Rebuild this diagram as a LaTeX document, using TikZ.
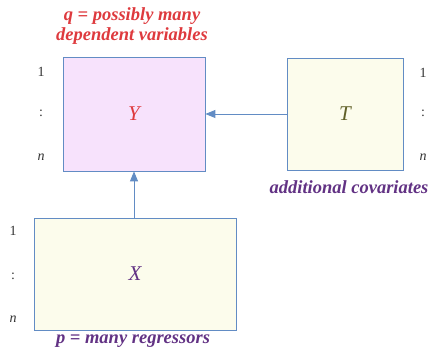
\documentclass[tikz,border=0pt]{standalone}
\usepackage{fontspec}
\setmainfont{Liberation Serif}
\usepackage{xcolor}
\usetikzlibrary{arrows.meta}
\definecolor{mBlue}{RGB}{98,140,196}
\definecolor{mRed}{RGB}{222,58,62}
\definecolor{mPurple}{RGB}{98,50,132}
\definecolor{mOlive}{RGB}{96,96,40}
\definecolor{mPink}{RGB}{247,226,252}
\definecolor{mCream}{RGB}{252,252,236}
\tikzset{
  mBox/.style={draw=mBlue,line width=.8pt,minimum width=#1,inner sep=0pt},
  mArrow/.style={draw=mBlue,line width=.9pt,-{Triangle[length=10pt,width=8pt]}},
  mIdx/.style={font=\fontsize{14}{14}\selectfont,text=black!80},
  mVar/.style={font=\fontsize{21}{21}\selectfont\itshape},
  mNote/.style={font=\fontsize{18.5}{20}\selectfont\bfseries\itshape,align=center},
}
\begin{document}
\begin{tikzpicture}[x=1pt,y=-1pt]
\useasboundingbox (0,0) rectangle (430,352);
% boxes
\node[mBox=142pt,minimum height=114pt,fill=mPink]  (ybox) at (134,114) {};
\node[mBox=116pt,minimum height=112pt,fill=mCream] (tbox) at (345,114) {};
\node[mBox=202pt,minimum height=112pt,fill=mCream] (xbox) at (135,274) {};
\node[mVar,text=mRed]    (yl) at (ybox) {Y};
\node[mVar,text=mOlive]  (tl) at (tbox) {T};
\node[mVar,text=mPurple] (xl) at (xbox) {X};
% notes
\node[mNote,text=mRed]    (qn) at (132,26)  {q = possibly many\\dependent variables};
\node[mNote,text=mPurple] (tn) at (349,187) {additional covariates};
\node[mNote,text=mPurple] (pn) at (133,341) {p = many regressors};
% row indices
\node[mIdx] (y1) at (41,72)  {1};
\node[mIdx] (yc) at (41,113) {:};
\node[mIdx] (yn) at (41,157) {\itshape n};
\node[mIdx] (t1) at (423,73)  {1};
\node[mIdx] (tc) at (423,113) {:};
\node[mIdx] (tm) at (423,157) {\itshape n};
\node[mIdx] (x1) at (13,231) {1};
\node[mIdx] (xc) at (13,276) {:};
\node[mIdx] (xm) at (13,319) {\itshape n};
% arrows
\draw[mArrow] (tbox.west) -- (ybox.east);
\draw[mArrow] (xbox.north-|ybox.south) -- (ybox.south);
\end{tikzpicture}
\end{document}
